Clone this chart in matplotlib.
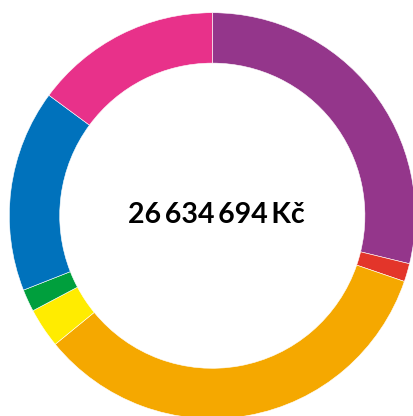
import matplotlib
matplotlib.use('Agg')
import matplotlib.pyplot as plt

# data (Kč), read from the ring, clockwise from 12 o'clock
labels = ['purple', 'red', 'orange', 'yellow', 'green', 'blue', 'pink']
values = [7672000, 385000, 9011000, 843000, 474000, 4284000, 3966000]
colors = ['#94368B', '#E3352A', '#F5A800', '#FFEC00', '#009F3D', '#0072BC', '#E8318A']
total_label = '26\u2009634\u2009694\u2009Kč'

W, H = 414, 416
fig = plt.figure(figsize=(W / 100, H / 100), dpi=100)
ax = fig.add_axes([0, 0, 1, 1])

cx, cy = 212.3, H - 215.7
ax.pie(values, colors=colors, startangle=90, counterclock=False,
       radius=203, center=(cx, cy), frame=True,
       wedgeprops=dict(width=50.4, edgecolor='white', linewidth=0.4))
ax.set_xlim(0, W)
ax.set_ylim(0, H)
ax.axis('off')

ax.text(216.5, H - 215, total_label, ha='center', va='center',
        fontsize=20.5, fontweight='bold', family=['Lato', 'DejaVu Sans'])

fig.savefig('out.png', dpi=100)
